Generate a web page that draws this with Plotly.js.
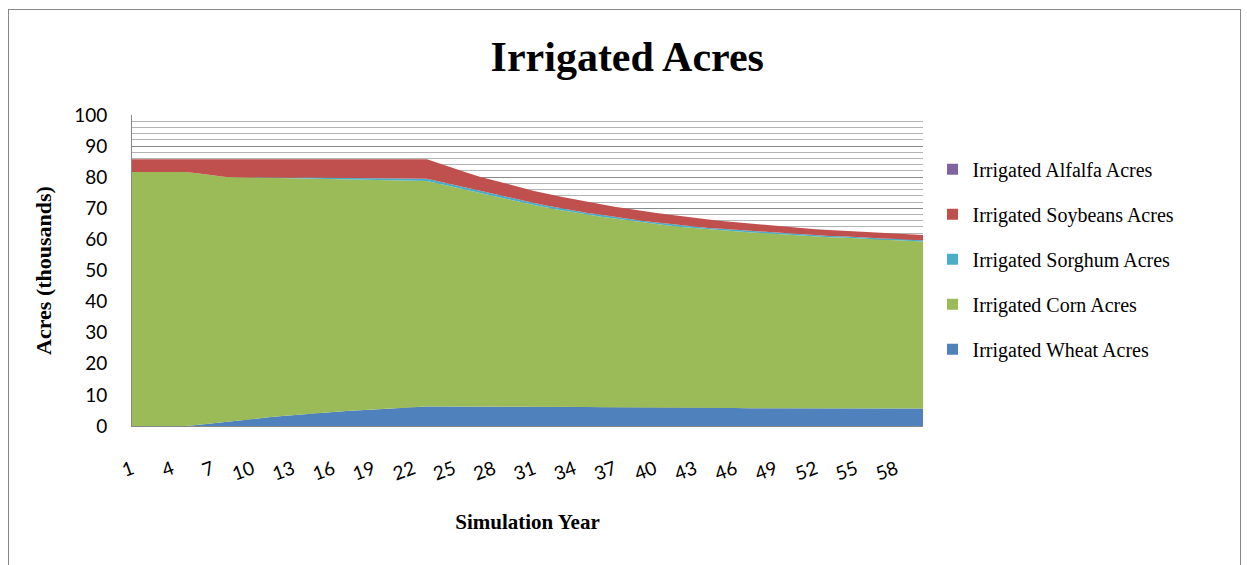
<!DOCTYPE html>
<html>
<head>
<meta charset="utf-8">
<script src="https://cdn.plot.ly/plotly-3.0.1.min.js"></script>
<style>
  body { margin: 0; background: #fff; }
  #frame { position: absolute; left: 8px; top: 9px; width: 1233px; height: 600px;
           border: 1px solid #878787; box-sizing: border-box; }
  #chart { position: absolute; left: 0; top: 0; width: 1247px; height: 565px; }
</style>
</head>
<body>
<div id="frame"></div>
<div id="chart"></div>
<script>
// simulation years 1..60
var years = [1,2,3,4,5,6,7,8,9,10,11,12,13,14,15,16,17,18,19,20,
             21,22,23,24,25,26,27,28,29,30,31,32,33,34,35,36,37,38,39,40,
             41,42,43,44,45,46,47,48,49,50,51,52,53,54,55,56,57,58,59,60];

// acres, thousands
var wheat = [0,0,0,0,0,0.4,0.9,1.3,1.8,2.2,2.7,3.1,3.5,3.9,4.2,4.5,4.8,5.1,5.3,5.6,
             5.8,6.0,6.3,6.3,6.3,6.3,6.3,6.3,6.3,6.2,6.2,6.2,6.1,6.1,6.1,6.0,6.0,6.0,5.9,5.9,
             5.9,5.9,5.8,5.8,5.8,5.8,5.7,5.7,5.7,5.7,5.7,5.7,5.6,5.6,5.6,5.6,5.6,5.6,5.6,5.6];

var corn = [81.7,81.7,81.7,81.7,81.7,80.8,79.7,78.8,78.2,77.7,77.1,76.6,76.1,75.7,75.3,74.9,74.6,74.2,73.9,73.5,
            73.2,72.9,72.5,71.5,70.5,69.5,68.6,67.6,66.6,65.8,64.9,64.0,63.3,62.6,61.8,61.3,60.7,60.1,59.6,59.1,
            58.6,58.1,57.8,57.4,57.1,56.8,56.6,56.3,56.0,55.8,55.4,55.2,55.1,55.0,54.7,54.4,54.3,54.1,53.9,53.7];

var sorghum = [0,0,0,0,0,0,0,0,0,0,0,0.1,0.2,0.3,0.35,0.4,0.45,0.5,0.5,0.55,
               0.6,0.6,0.7,0.7,0.7,0.7,0.6,0.6,0.6,0.6,0.6,0.6,0.6,0.6,0.6,0.6,0.5,0.5,0.5,0.5,
               0.5,0.5,0.5,0.5,0.5,0.5,0.5,0.5,0.5,0.5,0.5,0.5,0.4,0.4,0.4,0.4,0.4,0.4,0.4,0.4];

var soybeans = [4.1,4.1,4.1,4.1,4.1,4.6,5.2,5.7,5.8,5.9,6.0,6.0,6.0,5.9,5.9,6.0,6.0,6.0,6.1,6.1,
                6.2,6.3,6.3,5.8,5.3,4.9,4.6,4.4,4.2,4.1,3.9,3.8,3.7,3.6,3.5,3.4,3.3,3.2,3.2,3.1,
                3.0,2.9,2.8,2.7,2.5,2.4,2.3,2.2,2.1,2.0,2.0,1.9,1.9,1.8,1.8,1.8,1.7,1.7,1.7,1.7];

var alfalfa = [0,0,0,0,0,0,0,0,0,0,0,0,0,0,0,0,0,0,0,0,
               0,0,0,0,0,0,0,0,0,0,0,0,0,0,0,0,0,0,0,0,
               0,0,0,0,0,0,0,0,0,0,0,0,0,0,0,0,0,0,0,0];

var seriesNames = ['Irrigated Wheat Acres', 'Irrigated Corn Acres', 'Irrigated Sorghum Acres',
                   'Irrigated Soybeans Acres', 'Irrigated Alfalfa Acres'];
var seriesColors = ['#4F81BD', '#9BBB59', '#4BACC6', '#C0504D', '#8064A2'];
var seriesValues = [wheat, corn, sorghum, soybeans, alfalfa];

var xTicks = [1,4,7,10,13,16,19,22,25,28,31,34,37,40,43,46,49,52,55,58];

var data = [];
// stacked areas
seriesValues.forEach(function (vals, i) {
    data.push({
        x: years,
        y: vals,
        type: 'scatter',
        mode: 'lines',
        stackgroup: 'acres',
        line: { width: 0, color: seriesColors[i] },
        fillcolor: seriesColors[i],
        showlegend: false,
        hoverinfo: 'skip'
    });
});
// legend entries with square keys, top of the stack listed first
for (var i = seriesValues.length - 1; i >= 0; i--) {
    data.push({
        x: [null],
        y: [null],
        type: 'scatter',
        mode: 'markers',
        name: seriesNames[i],
        legendgroup: 'g' + i,
        marker: { symbol: 'square', size: 11, color: seriesColors[i] }
    });
}

var layout = {
    width: 1247,
    height: 565,
    margin: { l: 132, r: 324, t: 115, b: 139 },
    paper_bgcolor: 'rgba(0,0,0,0)',
    plot_bgcolor: 'rgba(0,0,0,0)',
    title: {
        text: '<b>Irrigated Acres</b>',
        font: { family: 'Liberation Serif', size: 42, color: '#000' },
        x: 0.503, xanchor: 'center',
        y: 0.9, yanchor: 'middle', yref: 'container'
    },
    showlegend: true,
    legend: {
        x: 1.012, xanchor: 'left',
        y: 0.888, yanchor: 'top',
        traceorder: 'grouped',
        tracegroupgap: 16,
        font: { family: 'Liberation Serif', size: 20, color: '#000' }
    },
    xaxis: {
        range: [1, 60],
        tickmode: 'array',
        tickvals: xTicks,
        ticktext: xTicks.map(String),
        tickangle: -20,
        ticklabelstandoff: 24,
        tickfont: { family: 'Lato', size: 19, color: '#000' },
        showgrid: false,
        zeroline: false,
        showline: true,
        linecolor: '#878787',
        linewidth: 1,
        title: {
            text: '<b>Simulation Year</b>',
            font: { family: 'Liberation Serif', size: 21, color: '#000' },
            standoff: 30
        }
    },
    yaxis: {
        range: [0, 100],
        dtick: 10,
        tickfont: { family: 'Lato', size: 19, color: '#000' },
        ticklabelstandoff: 20,
        showgrid: true,
        gridcolor: '#8a8a8a',
        gridwidth: 1,
        minor: { dtick: 2, showgrid: true, gridcolor: '#b4b4b4', gridwidth: 1 },
        zeroline: false,
        showline: true,
        linecolor: '#878787',
        linewidth: 1,
        ticks: '',
        title: {
            text: '<b>Acres (thousands)</b>',
            font: { family: 'Liberation Serif', size: 22, color: '#000' },
            standoff: 16
        }
    }
};

Plotly.newPlot('chart', data, layout, { displayModeBar: false, staticPlot: true });
</script>
</body>
</html>
